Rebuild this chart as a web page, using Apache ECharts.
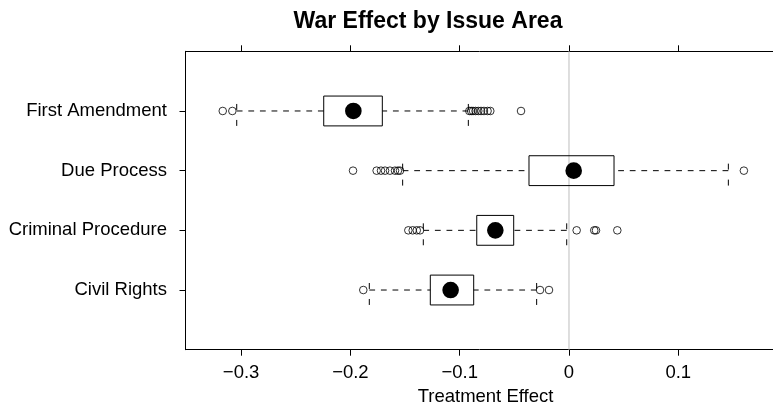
<!DOCTYPE html>
<html><head><meta charset="utf-8">
<script src="https://cdn.jsdelivr.net/npm/echarts@6/dist/echarts.min.js"></script>
<style>html,body{margin:0;padding:0;background:#fff}#c{width:773px;height:402px}</style>
</head><body><div id="c"></div>
<script>
const categories = ['Civil Rights', 'Criminal Procedure', 'Due Process', 'First Amendment'];
const lowerWhisker = [-0.1827, -0.1333, -0.1522, -0.3040];
const q1 = [-0.1269, -0.0844, -0.0366, -0.2244];
const median = [-0.1083, -0.0674, 0.0043, -0.1973];
const q3 = [-0.0872, -0.0506, 0.0412, -0.1708];
const upperWhisker = [-0.0296, -0.0021, 0.1458, -0.0921];
const outliersCivilRights = [-0.1882, -0.0265, -0.0183];
const outliersCriminalProcedure = [-0.1470, -0.1430, -0.1393, -0.1363, 0.0070, 0.0231, 0.0247, 0.0442];
const outliersDueProcess = [-0.1976, -0.1760, -0.1720, -0.1683, -0.1638, -0.1592, -0.1565, -0.1546, 0.1600];
const outliersFirstAmendment = [-0.3168, -0.3080, -0.0912, -0.0895, -0.0878, -0.0855, -0.0830, -0.0805, -0.0778, -0.0745, -0.0720, -0.0439];
const xTicks = [-0.3, -0.2, -0.1, 0, 0.1];
const xTickLabels = ['−0.3', '−0.2', '−0.1', '0', '0.1'];
const yTicks = [1, 2, 3, 4];

const FONT = "'Liberation Sans', Arial, Helvetica, sans-serif";
const outlierGroups = [outliersCivilRights, outliersCriminalProcedure, outliersDueProcess, outliersFirstAmendment];
const outlierData = [];
outlierGroups.forEach((g, i) => g.forEach(v => outlierData.push([v, i + 1])));
const boxData = categories.map((c, i) => [i + 1, lowerWhisker[i], q1[i], median[i], q3[i], upperWhisker[i]]);

const axisLineStyle = {color: '#000', width: 1};
const chart = echarts.init(document.getElementById('c'), null, {renderer: 'canvas'});
chart.setOption({
  animation: false,
  backgroundColor: '#fff',
  title: {
    text: 'War Effect by Issue Area',
    left: 423, top: 5, textAlign: 'center',
    textStyle: {fontSize: 23, fontWeight: 'bold', color: '#000', fontFamily: FONT}
  },
  grid: {left: 185.5, top: 51.3, width: 600, height: 298.4, show: false,
    outerBoundsMode: 'none', containLabel: false},
  xAxis: [{
    type: 'value', position: 'bottom', min: -0.35087, max: 0.19808,
    name: 'Treatment Effect', nameLocation: 'middle', nameGap: 36,
    nameTextStyle: {fontSize: 18.5, color: '#000', fontFamily: FONT, padding: [0, 0, 0, 0]},
    axisLine: {show: true, onZero: false, lineStyle: axisLineStyle}, splitLine: {show: false},
    axisTick: {show: true, length: 6, customValues: xTicks, lineStyle: axisLineStyle},
    axisLabel: {customValues: xTicks, margin: 14, fontSize: 18.5, color: '#000', fontFamily: FONT,
      formatter: v => xTickLabels[xTicks.findIndex(t => Math.abs(t - v) < 1e-9)]}
  }, {
    type: 'value', position: 'top', min: -0.35087, max: 0.19808,
    axisLine: {show: true, onZero: false, lineStyle: axisLineStyle}, splitLine: {show: false},
    axisTick: {show: true, length: 6, customValues: xTicks, lineStyle: axisLineStyle},
    axisLabel: {show: false}
  }],
  yAxis: {
    type: 'value', position: 'left', min: 0, max: 5,
    axisLine: {show: true, onZero: false, lineStyle: axisLineStyle}, splitLine: {show: false},
    axisTick: {show: true, length: 6, customValues: yTicks, lineStyle: axisLineStyle},
    axisLabel: {customValues: yTicks, margin: 18.5, fontSize: 18.5, color: '#000', fontFamily: FONT,
      formatter: v => categories[Math.round(v) - 1]}
  },
  series: [{
    type: 'line', data: [[0, 0], [0, 5]], symbol: 'none', silent: true, z: 1,
    lineStyle: {color: '#bebebe', width: 1}
  }, {
    type: 'custom', z: 2, silent: true,
    data: boxData,
    encode: {x: [1, 2, 3, 4, 5], y: 0},
    renderItem: function (params, api) {
      const y = api.value(0);
      const pLo = api.coord([api.value(1), y]);
      const pA = api.coord([api.value(2), y]);
      const pM = api.coord([api.value(3), y]);
      const pB = api.coord([api.value(4), y]);
      const pHi = api.coord([api.value(5), y]);
      const h = api.size([0, 0.5])[1];
      const cy = pM[1];
      const ls = {stroke: '#000', lineWidth: 1, lineDash: [5.8, 5.8], fill: null};
      const staple = x => ({type: 'line', shape: {x1: x, y1: cy - h * 0.235, x2: x, y2: cy + h * 0.5},
        style: {stroke: '#000', lineWidth: 1, lineDash: [h * 0.2, h * 0.335]}});
      return {type: 'group', children: [
        {type: 'line', shape: {x1: pLo[0], y1: cy, x2: pA[0], y2: cy}, style: ls},
        {type: 'line', shape: {x1: pHi[0], y1: cy, x2: pB[0], y2: cy}, style: ls},
        staple(pLo[0]), staple(pHi[0]),
        {type: 'rect', shape: {x: pA[0], y: cy - h / 2, width: pB[0] - pA[0], height: h},
          style: {fill: 'none', stroke: '#000', lineWidth: 1}},
        {type: 'circle', shape: {cx: pM[0], cy: cy, r: 8.3}, style: {fill: '#000'}}
      ]};
    }
  }, {
    type: 'scatter', z: 3, silent: true,
    data: outlierData, symbol: 'circle', symbolSize: 7.6,
    itemStyle: {color: 'rgba(0,0,0,0)', borderColor: '#000', borderWidth: 1}
  }]
});
</script></body></html>
